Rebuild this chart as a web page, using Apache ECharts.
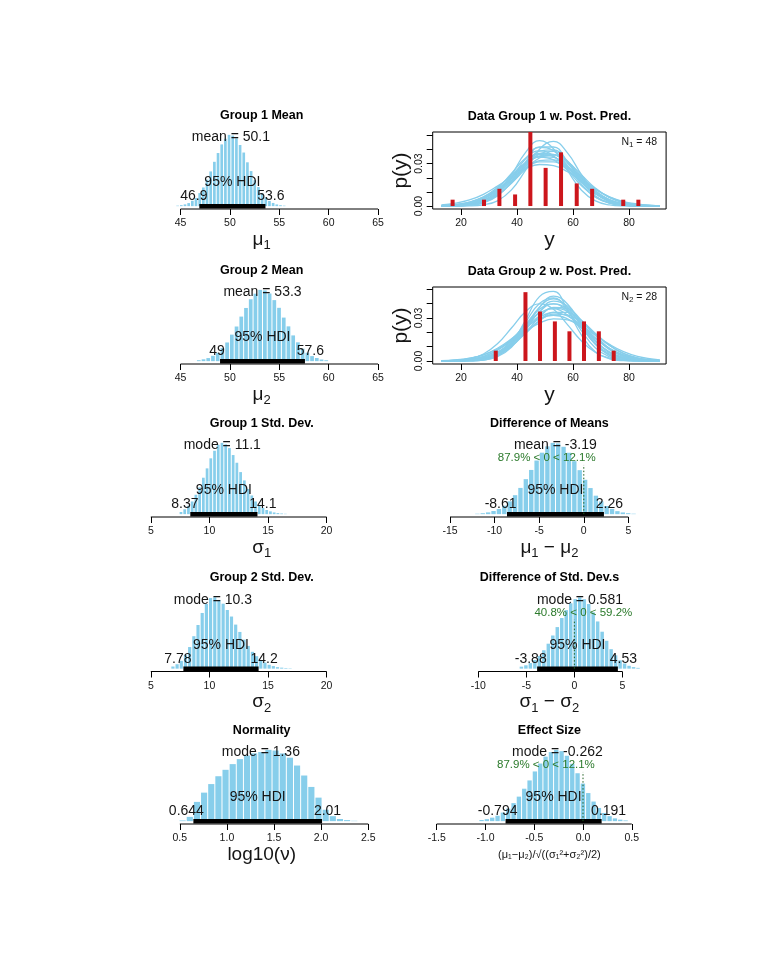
<!DOCTYPE html>
<html><head><meta charset="utf-8">
<script src="https://cdn.jsdelivr.net/npm/echarts@6/dist/echarts.min.js"></script>
<style>html,body{margin:0;padding:0;background:#fff}#c{width:776px;height:968px}</style>
</head><body><div id="c"></div>
<script>
// ================= DATA =================
// posterior predictive panels
const predX = [13,18,23,28,33,38,43,48,53,58,63,68,73,78,83,88,91];
const data1X = [17.0,28.2,33.7,39.3,44.75,50.2,55.7,61.3,66.8,77.9,83.3];
const data1Dens = [0.0045,0.0045,0.0122,0.0082,0.0524,0.0270,0.0380,0.0160,0.0122,0.0045,0.0045];
const data2X = [32.4,43.0,48.2,53.5,58.7,63.9,69.2,74.5];
const data2Dens = [0.0072,0.0480,0.0345,0.0276,0.0207,0.0276,0.0207,0.0072];
const pred1Curves = [
 [0.0001,0.0004,0.0014,0.0042,0.0102,0.0198,0.0304,0.0373,0.0365,0.0284,0.0177,0.0087,0.0035,0.0011,0.0003,0.0001,0.0000],
 [0.0003,0.0009,0.0027,0.0065,0.0132,0.0220,0.0303,0.0346,0.0327,0.0255,0.0166,0.0088,0.0039,0.0015,0.0004,0.0001,0.0000],
 [0.0000,0.0001,0.0007,0.0026,0.0075,0.0168,0.0292,0.0388,0.0398,0.0315,0.0193,0.0090,0.0033,0.0009,0.0002,0.0000,0.0000],
 [0.0004,0.0011,0.0028,0.0063,0.0120,0.0194,0.0266,0.0313,0.0313,0.0266,0.0194,0.0120,0.0063,0.0028,0.0011,0.0004,0.0002],
 [0.0001,0.0004,0.0017,0.0052,0.0123,0.0230,0.0338,0.0391,0.0355,0.0254,0.0143,0.0063,0.0022,0.0006,0.0001,0.0000,0.0000],
 [0.0001,0.0003,0.0011,0.0034,0.0081,0.0162,0.0260,0.0340,0.0362,0.0313,0.0220,0.0126,0.0059,0.0022,0.0007,0.0002,0.0001],
 [0.0008,0.0020,0.0043,0.0083,0.0141,0.0206,0.0264,0.0294,0.0286,0.0243,0.0180,0.0116,0.0065,0.0032,0.0014,0.0005,0.0003],
 [0.0000,0.0001,0.0006,0.0027,0.0092,0.0220,0.0378,0.0463,0.0405,0.0252,0.0112,0.0036,0.0008,0.0001,0.0000,0.0000,0.0000],
 [0.0000,0.0000,0.0001,0.0009,0.0037,0.0114,0.0253,0.0402,0.0458,0.0376,0.0222,0.0094,0.0028,0.0006,0.0001,0.0000,0.0000],
 [0.0001,0.0003,0.0013,0.0038,0.0092,0.0180,0.0280,0.0355,0.0363,0.0299,0.0199,0.0107,0.0046,0.0016,0.0005,0.0001,0.0000],
 [0.0000,0.0002,0.0008,0.0033,0.0092,0.0202,0.0332,0.0415,0.0392,0.0281,0.0153,0.0063,0.0020,0.0005,0.0001,0.0000,0.0000],
 [0.0002,0.0006,0.0020,0.0052,0.0112,0.0201,0.0293,0.0350,0.0344,0.0276,0.0182,0.0098,0.0043,0.0016,0.0005,0.0001,0.0000],
 [0.0000,0.0002,0.0008,0.0028,0.0076,0.0163,0.0276,0.0369,0.0387,0.0319,0.0207,0.0106,0.0042,0.0013,0.0003,0.0001,0.0000],
 [0.0001,0.0005,0.0018,0.0051,0.0115,0.0209,0.0308,0.0365,0.0350,0.0271,0.0169,0.0085,0.0035,0.0011,0.0003,0.0001,0.0000],
 [0.0000,0.0001,0.0005,0.0022,0.0071,0.0172,0.0311,0.0418,0.0418,0.0311,0.0172,0.0071,0.0022,0.0005,0.0001,0.0000,0.0000],
 [0.0002,0.0008,0.0022,0.0053,0.0108,0.0185,0.0266,0.0322,0.0327,0.0280,0.0202,0.0122,0.0062,0.0027,0.0009,0.0003,0.0001]
];
const pred2Curves = [
 [0.0000,0.0001,0.0004,0.0016,0.0049,0.0120,0.0230,0.0343,0.0399,0.0361,0.0254,0.0139,0.0059,0.0020,0.0005,0.0001,0.0000],
 [0.0001,0.0003,0.0010,0.0030,0.0076,0.0152,0.0250,0.0334,0.0363,0.0320,0.0230,0.0134,0.0064,0.0025,0.0008,0.0002,0.0001],
 [0.0000,0.0000,0.0002,0.0010,0.0037,0.0102,0.0215,0.0344,0.0418,0.0384,0.0268,0.0142,0.0057,0.0017,0.0004,0.0001,0.0000],
 [0.0002,0.0006,0.0018,0.0043,0.0089,0.0155,0.0232,0.0294,0.0319,0.0294,0.0232,0.0155,0.0089,0.0043,0.0018,0.0006,0.0003],
 [0.0000,0.0001,0.0004,0.0014,0.0042,0.0102,0.0198,0.0304,0.0373,0.0365,0.0284,0.0177,0.0087,0.0035,0.0011,0.0003,0.0001],
 [0.0000,0.0000,0.0002,0.0013,0.0048,0.0132,0.0269,0.0401,0.0440,0.0355,0.0210,0.0091,0.0029,0.0007,0.0001,0.0000,0.0000],
 [0.0000,0.0000,0.0001,0.0007,0.0036,0.0123,0.0284,0.0449,0.0485,0.0357,0.0180,0.0062,0.0015,0.0002,0.0000,0.0000,0.0000],
 [0.0003,0.0008,0.0020,0.0043,0.0083,0.0141,0.0206,0.0264,0.0294,0.0286,0.0243,0.0180,0.0116,0.0065,0.0032,0.0014,0.0008],
 [0.0000,0.0000,0.0002,0.0011,0.0041,0.0115,0.0240,0.0375,0.0434,0.0375,0.0240,0.0115,0.0041,0.0011,0.0002,0.0000,0.0000],
 [0.0000,0.0002,0.0006,0.0020,0.0051,0.0109,0.0192,0.0281,0.0339,0.0339,0.0281,0.0192,0.0109,0.0051,0.0020,0.0006,0.0003],
 [0.0000,0.0001,0.0006,0.0020,0.0056,0.0123,0.0220,0.0316,0.0368,0.0345,0.0261,0.0159,0.0079,0.0031,0.0010,0.0003,0.0001],
 [0.0000,0.0000,0.0001,0.0007,0.0030,0.0096,0.0222,0.0373,0.0452,0.0398,0.0253,0.0116,0.0039,0.0009,0.0002,0.0000,0.0000],
 [0.0000,0.0001,0.0005,0.0020,0.0059,0.0139,0.0254,0.0361,0.0399,0.0343,0.0230,0.0120,0.0049,0.0016,0.0004,0.0001,0.0000],
 [0.0001,0.0003,0.0009,0.0027,0.0062,0.0122,0.0202,0.0280,0.0327,0.0322,0.0266,0.0185,0.0108,0.0053,0.0022,0.0008,0.0004],
 [0.0001,0.0004,0.0012,0.0033,0.0075,0.0143,0.0227,0.0303,0.0338,0.0314,0.0244,0.0159,0.0086,0.0039,0.0015,0.0005,0.0002],
 [0.0001,0.0004,0.0016,0.0049,0.0120,0.0230,0.0343,0.0399,0.0361,0.0254,0.0139,0.0059,0.0020,0.0005,0.0001,0.0000,0.0000]
];
const n1 = 48, n2 = 28;
const yTicks = [20,40,60,80];
const pTicks = [0,0.01,0.02,0.03,0.04,0.05];
const pLabels = [0,0.03];

// posterior histograms: bin start, bin width, relative heights (peak = 1)
const mu1Start = 44.52, mu1Width = 0.372;
const mu1Heights = [0.007,0.014,0.025,0.043,0.075,0.115,0.183,0.262,0.371,0.487,0.622,0.745,0.866,0.945,1.0,0.99,0.951,0.858,0.752,0.615,0.492,0.364,0.268,0.178,0.121,0.072,0.045,0.024,0.013,0.007];
const mu1Center = 50.1, mu1HDI = [46.9, 53.6];

const mu2Start = 46.61, mu2Width = 0.478;
const mu2Heights = [0.013,0.026,0.043,0.075,0.117,0.184,0.262,0.372,0.486,0.625,0.746,0.868,0.946,1.0,0.991,0.949,0.856,0.748,0.611,0.488,0.361,0.264,0.175,0.118,0.071,0.044,0.023,0.013];
const mu2Center = 53.3, mu2HDI = [49, 57.6];

const sd1Start = 7.416, sd1Width = 0.318;
const sd1Heights = [0.03,0.068,0.117,0.178,0.272,0.376,0.511,0.642,0.783,0.889,0.972,1.0,0.979,0.927,0.829,0.721,0.59,0.473,0.353,0.262,0.178,0.122,0.088,0.058,0.039,0.024,0.015,0.009,0.005];
const sd1Mode = 11.1, sd1HDI = [8.37, 14.1];

const sd2Start = 6.709, sd2Width = 0.357;
const sd2Heights = [0.03,0.062,0.11,0.195,0.303,0.455,0.612,0.781,0.908,0.99,1.0,0.964,0.911,0.823,0.731,0.618,0.515,0.407,0.319,0.236,0.175,0.12,0.085,0.054,0.036,0.021,0.014,0.008,0.005];
const sd2Mode = 10.3, sd2HDI = [7.78, 14.2];

const nuStart = 0.4922, nuWidth = 0.0759;
const nuHeights = [0.01,0.06,0.27,0.40,0.52,0.63,0.72,0.80,0.87,0.92,0.95,0.97,1.0,0.99,0.95,0.89,0.78,0.64,0.48,0.33,0.16,0.07,0.03,0.015,0.005];
const nuMode = 1.36, nuHDI = [0.644, 2.01];

const dmStart = -12.234, dmWidth = 0.604;
const dmHeights = [0.006,0.013,0.025,0.044,0.073,0.119,0.18,0.266,0.368,0.491,0.62,0.752,0.862,0.951,1.0,0.992,0.945,0.861,0.743,0.617,0.482,0.366,0.259,0.179,0.114,0.073,0.042,0.024,0.013,0.006];
const dmMean = -3.19, dmHDI = [-8.61, 2.26], dmPct = [87.9, 12.1];

const dsStart = -5.748, dsWidth = 0.467;
const dsHeights = [0.028,0.047,0.078,0.121,0.178,0.258,0.35,0.465,0.583,0.71,0.821,0.917,0.975,1.0,0.974,0.906,0.79,0.662,0.518,0.391,0.273,0.187,0.117,0.072,0.04,0.022,0.011];
const dsMode = 0.581, dsHDI = [-3.88, 4.53], dsPct = [40.8, 59.2];

const esStart = -1.0675, esWidth = 0.0547;
const esHeights = [0.016,0.028,0.049,0.076,0.12,0.176,0.253,0.344,0.455,0.571,0.697,0.808,0.905,0.969,1.0,0.982,0.917,0.805,0.672,0.527,0.394,0.275,0.185,0.115,0.07,0.039,0.021,0.01];
const esMode = -0.262, esHDI = [-0.794, 0.191], esPct = [87.9, 12.1];

const muTicks = [45,50,55,60,65];
const sdTicks = [5,10,15,20];
const nuTicks = [0.5,1.0,1.5,2.0,2.5];
const dmTicks = [-15,-10,-5,0,5];
const dsTicks = [-10,-5,0,5];
const esTicks = [-1.5,-1.0,-0.5,0.0,0.5];

// ================= BUILD =================
const FONT = '"Liberation Sans", Arial, Helvetica, sans-serif';
const H = 77;
const LEFT_L = 145, LEFT_R = 432.7, W = 233.4;
const TOPS = [132, 287, 440, 594.5, 747];
const TCOL = '#151515';
const grid = [], xAxis = [], yAxis = [], series = [], graphic = [];
const mctx = document.createElement('canvas').getContext('2d');
function textW(t, size){ mctx.font = size + 'px ' + FONT; return mctx.measureText(t).width; }
function txt(x, y, text, size, color, align, weight){
  return {type:'text', x:x, y:y, silent:true,
    style:{text:text, fill:color, fontSize:size, fontFamily:FONT, fontWeight:weight||'normal',
      align:align, textAlign:align, verticalAlign:'middle', textVerticalAlign:'middle'}};
}
function addTitle(text, x, y){ graphic.push(txt(x, y, text, 12.5, '#000', 'center', 'bold')); }

const subRich = {
  t:{fontSize:19, lineHeight:26, verticalAlign:'middle', fontFamily:FONT, color:TCOL},
  s:{fontSize:13, lineHeight:13, verticalAlign:'bottom', fontFamily:FONT, color:TCOL}
};

function histPanel(o){
  const gi = grid.length;
  grid.push({left:o.left, top:o.top, width:W, height:H});
  xAxis.push({
    type:'value', gridIndex:gi, min:o.xlim[0], max:o.xlim[1],
    axisLine:{show:false, onZero:false},
    axisTick:{show:true, length:6, inside:false, customValues:o.ticks, lineStyle:{color:'#000', width:1}},
    axisLabel:{show:true, customValues:o.ticks, formatter:o.fmt, fontSize:10.5, fontFamily:FONT, color:TCOL, margin:9},
    splitLine:{show:false},
    name:o.name, nameLocation:'middle', nameGap:o.nameGap,
    nameTextStyle:Object.assign({fontFamily:FONT, color:TCOL, rich:subRich}, o.nameStyle||{})
  });
  yAxis.push({type:'value', gridIndex:gi, min:-0.04, max:1.04, show:false});
  const bins = o.h.map((h,i)=>[o.start + i*o.bw, o.start + (i+1)*o.bw, h]);
  series.push({type:'custom', xAxisIndex:gi, yAxisIndex:gi, data:bins, silent:true, z:2,
    renderItem:(p, api)=>{
      const a = api.coord([api.value(0), api.value(2)]);
      const b = api.coord([api.value(1), 0]);
      return {type:'rect', shape:{x:a[0]+0.5, y:a[1], width:Math.max(b[0]-a[0]-1, 0.6), height:Math.max(b[1]-a[1], 0)},
        style:{fill:'#87CEEB'}};
    }});
  series.push({type:'custom', xAxisIndex:gi, yAxisIndex:gi, data:[[o.cen, 0]], silent:true, z:5,
    renderItem:(p, api)=>{
      const ch = [];
      const base = api.coord([o.cen, 0])[1];
      const bottom = api.coord([o.cen, -0.04])[1];
      const t0 = api.coord([o.ticks[0], 0])[0], t1 = api.coord([o.ticks[o.ticks.length-1], 0])[0];
      ch.push({type:'line', shape:{x1:t0, y1:bottom, x2:t1, y2:bottom}, style:{stroke:'#000', lineWidth:1}});
      const h0 = api.coord([o.hdi[0], 0])[0], h1 = api.coord([o.hdi[1], 0])[0];
      ch.push({type:'line', shape:{x1:h0, y1:base, x2:h1, y2:base}, style:{stroke:'#000', lineWidth:4.5, lineCap:'butt'}});
      if (o.pct){
        const zx = api.coord([0, 0])[0];
        const zt = api.coord([0, 0.69])[1];
        ch.push({type:'line', shape:{x1:zx, y1:base, x2:zx, y2:zt}, style:{stroke:'#1f5f1f', lineWidth:1, lineDash:[1.5, 2]}});
        const s = o.pct[0] + '% < 0 < ' + o.pct[1] + '%';
        ch.push(txt(zx - o.pct[0]/100*textW(s, 11.5), base - 56, s, 11.5, '#2b7a2b', 'left'));
      }
      const cx = api.coord([o.cen, 0])[0];
      ch.push(txt(cx, base - 69, o.cenLabel + ' = ' + o.cen, 14, TCOL, 'center'));
      const mx = api.coord([(o.hdi[0] + o.hdi[1]) / 2, 0])[0];
      ch.push(txt(mx, base - 24, '95% HDI', 14, TCOL, 'center'));
      const l0 = String(o.hdi[0]), l1 = String(o.hdi[1]);
      ch.push(txt(h0 - 0.7*textW(l0, 14), base - 10, l0, 14, TCOL, 'left'));
      ch.push(txt(h1 - 0.3*textW(l1, 14), base - 10, l1, 14, TCOL, 'left'));
      return {type:'group', children:ch};
    }});
  addTitle(o.title, o.left + W/2, o.top - 16.5);
}

function predPanel(o){
  const gi = grid.length;
  grid.push({left:o.left, top:o.top, width:W, height:H, show:true, borderColor:'#000', borderWidth:1, backgroundColor:'rgba(0,0,0,0)'});
  xAxis.push({
    type:'value', gridIndex:gi, min:o.xlim[0], max:o.xlim[1],
    axisLine:{show:false, onZero:false},
    axisTick:{show:true, length:6, customValues:yTicks, lineStyle:{color:'#000', width:1}},
    axisLabel:{show:true, customValues:yTicks, fontSize:10.5, fontFamily:FONT, color:TCOL, margin:9},
    splitLine:{show:false},
    name:'y', nameLocation:'middle', nameGap:20, nameTextStyle:{fontSize:21, fontFamily:FONT, color:TCOL}
  });
  yAxis.push({
    type:'value', gridIndex:gi, min:o.ylim[0], max:o.ylim[1],
    axisLine:{show:false, onZero:false},
    axisTick:{show:true, length:6, customValues:pTicks, lineStyle:{color:'#000', width:1}},
    axisLabel:{show:true, customValues:pLabels, formatter:v=>v.toFixed(2), rotate:90, fontSize:10.5, fontFamily:FONT, color:TCOL, margin:8},
    splitLine:{show:false},
    name:'p(y)', nameLocation:'middle', nameRotate:90, nameGap:21, nameTextStyle:{fontSize:21, fontFamily:FONT, color:TCOL}
  });
  o.curves.forEach(c=>{
    series.push({type:'line', xAxisIndex:gi, yAxisIndex:gi, data:predX.map((x,i)=>[x, c[i]]),
      smooth:0.45, showSymbol:false, silent:true, z:2, lineStyle:{color:'#87CEEB', width:1.3}});
  });
  series.push({type:'custom', xAxisIndex:gi, yAxisIndex:gi, data:o.dx.map((x,i)=>[x, o.dy[i]]), silent:true, z:4,
    renderItem:(p, api)=>{
      const a = api.coord([api.value(0), api.value(1)]);
      const b = api.coord([api.value(0), 0]);
      return {type:'rect', shape:{x:a[0]-2, y:a[1], width:4, height:b[1]-a[1]}, style:{fill:'#cc161c'}};
    }});
  series.push({type:'custom', xAxisIndex:gi, yAxisIndex:gi, data:[[o.xlim[1], o.ylim[1]]], silent:true, z:5,
    renderItem:(p, api)=>{
      const c = api.coord([o.xlim[1], o.ylim[1]]);
      return {type:'text', x:c[0]-9, y:c[1]+10, silent:true,
        style:{text:'{n|N}{s|' + o.sub + '}{n| = ' + o.n + '}', align:'right', textAlign:'right', verticalAlign:'middle', textVerticalAlign:'middle',
          rich:{n:{fontSize:10.5, fontFamily:FONT, fill:TCOL, color:TCOL, lineHeight:14, verticalAlign:'middle'},
                s:{fontSize:8, fontFamily:FONT, fill:TCOL, color:TCOL, lineHeight:8, verticalAlign:'bottom'}}}};
    }});
  addTitle(o.title, o.left + W/2, o.top - 15.5);
}

const fmtInt = v => String(v);
const fmt1 = v => v.toFixed(1);

histPanel({left:LEFT_L, top:TOPS[0], xlim:[41.40, 65.04], ticks:muTicks, fmt:fmtInt, start:mu1Start, bw:mu1Width, h:mu1Heights,
  cen:mu1Center, cenLabel:'mean', hdi:mu1HDI, title:'Group 1 Mean', name:'{t|μ}{s|1}', nameGap:16});
predPanel({left:LEFT_R, top:TOPS[0], xlim:[9.89, 93.2], ylim:[-0.0021, 0.0524], curves:pred1Curves, dx:data1X, dy:data1Dens,
  n:n1, sub:'1', title:'Data Group 1 w. Post. Pred.'});
histPanel({left:LEFT_L, top:TOPS[1], xlim:[41.40, 65.04], ticks:muTicks, fmt:fmtInt, start:mu2Start, bw:mu2Width, h:mu2Heights,
  cen:mu2Center, cenLabel:'mean', hdi:mu2HDI, title:'Group 2 Mean', name:'{t|μ}{s|2}', nameGap:16});
predPanel({left:LEFT_R, top:TOPS[1], xlim:[9.89, 93.2], ylim:[-0.0021, 0.0516], curves:pred2Curves, dx:data2X, dy:data2Dens,
  n:n2, sub:'2', title:'Data Group 2 w. Post. Pred.'});
histPanel({left:LEFT_L, top:TOPS[2], xlim:[4.505, 24.42], ticks:sdTicks, fmt:fmtInt, start:sd1Start, bw:sd1Width, h:sd1Heights,
  cen:sd1Mode, cenLabel:'mode', hdi:sd1HDI, title:'Group 1 Std. Dev.', name:'{t|σ}{s|1}', nameGap:16});
histPanel({left:LEFT_R, top:TOPS[2], xlim:[-16.94, 9.23], ticks:dmTicks, fmt:fmtInt, start:dmStart, bw:dmWidth, h:dmHeights,
  cen:dmMean, cenLabel:'mean', hdi:dmHDI, pct:dmPct, title:'Difference of Means', name:'{t|μ}{s|1}{t| − μ}{s|2}', nameGap:16});
histPanel({left:LEFT_L, top:TOPS[3], xlim:[4.505, 24.42], ticks:sdTicks, fmt:fmtInt, start:sd2Start, bw:sd2Width, h:sd2Heights,
  cen:sd2Mode, cenLabel:'mode', hdi:sd2HDI, title:'Group 2 Std. Dev.', name:'{t|σ}{s|2}', nameGap:16});
histPanel({left:LEFT_R, top:TOPS[3], xlim:[-14.75, 9.55], ticks:dsTicks, fmt:fmtInt, start:dsStart, bw:dsWidth, h:dsHeights,
  cen:dsMode, cenLabel:'mode', hdi:dsHDI, pct:dsPct, title:'Difference of Std. Dev.s', name:'{t|σ}{s|1}{t| − σ}{s|2}', nameGap:16});
histPanel({left:LEFT_L, top:TOPS[4], xlim:[0.1304, 2.608], ticks:nuTicks, fmt:fmt1, start:nuStart, bw:nuWidth, h:nuHeights,
  cen:nuMode, cenLabel:'mode', hdi:nuHDI, title:'Normality', name:'{t|log10(ν)}', nameGap:16});
histPanel({left:LEFT_R, top:TOPS[4], xlim:[-1.541, 0.852], ticks:esTicks, fmt:fmt1, start:esStart, bw:esWidth, h:esHeights,
  cen:esMode, cenLabel:'mode', hdi:esHDI, pct:esPct, title:'Effect Size',
  name:'(μ₁−μ₂)/√((σ₁²+σ₂²)/2)', nameGap:25, nameStyle:{fontSize:11, rich:{}}});

const chart = echarts.init(document.getElementById('c'), null, {renderer:'canvas', width:776, height:968});
chart.setOption({
  animation:false,
  backgroundColor:'#fff',
  grid:grid, xAxis:xAxis, yAxis:yAxis, series:series, graphic:graphic
});
</script>
</body></html>
